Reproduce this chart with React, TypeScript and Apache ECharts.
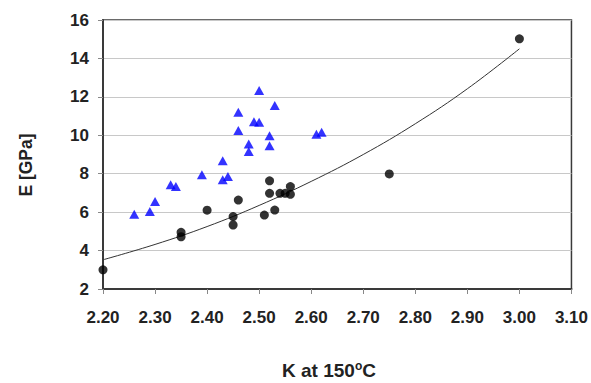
import React, { useEffect, useRef } from "react";
import * as echarts from "echarts";

const circleX = [2.20, 2.35, 2.35, 2.40, 2.46, 2.45, 2.45, 2.51, 2.52, 2.52, 2.53, 2.54, 2.55, 2.56, 2.56, 2.75, 3.00];
const circleY = [3.0, 4.95, 4.72, 6.1, 6.63, 5.77, 5.33, 5.85, 7.63, 6.98, 6.11, 6.98, 6.98, 7.33, 6.93, 7.99, 15.02];

const triX = [2.50, 2.53, 2.46, 2.49, 2.50, 2.46, 2.52, 2.52, 2.48, 2.48, 2.61, 2.62, 2.43, 2.44, 2.43, 2.39, 2.33, 2.34, 2.30, 2.29, 2.26];
const triY = [12.33, 11.55, 11.2, 10.71, 10.68, 10.25, 9.97, 9.45, 9.55, 9.15, 10.06, 10.16, 8.67, 7.85, 7.68, 7.94, 7.42, 7.33, 6.55, 6.03, 5.89];

const trendX = [2.20, 2.30, 2.40, 2.50, 2.60, 2.70, 2.80, 2.90, 3.00];
const trendY = [3.52, 4.32, 5.25, 6.35, 7.6, 9.0, 10.6, 12.42, 14.5];

const yTicks = [2, 4, 6, 8, 10, 12, 14, 16];
const xTickLabels = ["2.20", "2.30", "2.40", "2.50", "2.60", "2.70", "2.80", "2.90", "3.00", "3.10"];

const FONT = 'Arial, "Liberation Sans", sans-serif';

export default function App() {
  const ref = useRef<HTMLDivElement>(null);
  useEffect(() => {
    if (!ref.current) return;
    const chart = echarts.init(ref.current, undefined, { renderer: "svg" });
    const zip = (xs: number[], ys: number[]) => xs.map((x, i) => [x, ys[i]]);
    chart.setOption({
      animation: false,
      backgroundColor: "#ffffff",
      grid: {
        left: 103,
        top: 20,
        width: 470,
        height: 269,
        show: true,
        borderColor: "#3a3a3a",
        borderWidth: 1.5,
        backgroundColor: "transparent",
      },
      xAxis: {
        type: "value",
        min: 2.2,
        max: 3.1,
        interval: 0.1,
        axisLine: { show: true, onZero: false, lineStyle: { color: "#3a3a3a", width: 2 } },
        axisTick: { show: true, inside: false, length: 5, lineStyle: { color: "#888" } },
        splitLine: { show: false },
        axisLabel: {
          margin: 20,
          fontSize: 17,
          fontWeight: "bold",
          fontFamily: FONT,
          color: "#222",
          formatter: (v: number) => {
            const idx = Math.round((v - 2.2) / 0.1);
            return xTickLabels[idx] ?? v.toFixed(2);
          },
        },
      },
      yAxis: {
        type: "value",
        min: yTicks[0],
        max: yTicks[yTicks.length - 1],
        interval: 2,
        axisLine: { show: true, onZero: false, lineStyle: { color: "#3a3a3a", width: 2 } },
        axisTick: { show: true, inside: false, length: 5, lineStyle: { color: "#888" } },
        splitLine: { show: true, lineStyle: { color: "#c8c8c8", width: 1 } },
        axisLabel: {
          margin: 14,
          fontSize: 17,
          fontWeight: "bold",
          fontFamily: FONT,
          color: "#222",
        },
      },
      series: [
        {
          type: "line",
          data: zip(trendX, trendY),
          smooth: 0.4,
          showSymbol: false,
          symbol: "none",
          lineStyle: { color: "#333", width: 1 },
          z: 2,
        },
        {
          type: "scatter",
          data: zip(triX, triY),
          symbol: "triangle",
          symbolSize: [10, 9],
          itemStyle: { color: "#0000ff" },
          z: 3,
        },
        {
          type: "scatter",
          data: zip(circleX, circleY),
          symbol: "circle",
          symbolSize: 9,
          itemStyle: { color: "#000000" },
          z: 4,
        },
      ],
      graphic: [
        {
          type: "text",
          x: 26,
          y: 165,
          rotation: Math.PI / 2,
          style: {
            text: "E [GPa]",
            fontSize: 17.5,
            fontWeight: "bold",
            fontFamily: FONT,
            fill: "#222",
            align: "center",
            verticalAlign: "middle",
          },
        },
        {
          type: "text",
          x: 329,
          y: 371,
          style: {
            text: "{b|K at 150}{s|o}{b|C}",
            align: "center",
            verticalAlign: "middle",
            fill: "#222",
            rich: {
              b: { fontSize: 19, fontWeight: "bold", fontFamily: FONT, fill: "#222", lineHeight: 18, verticalAlign: "bottom" },
              s: { fontSize: 12, fontWeight: "bold", fontFamily: FONT, fill: "#222", lineHeight: 10, padding: [0, 0, 8, 0], verticalAlign: "bottom" },
            },
          },
        },
      ],
    });
    return () => chart.dispose();
  }, []);
  return (
    <div
      ref={ref}
      style={{ position: "fixed", left: 0, top: 0, width: 591, height: 383, background: "#fff" }}
    />
  );
}
